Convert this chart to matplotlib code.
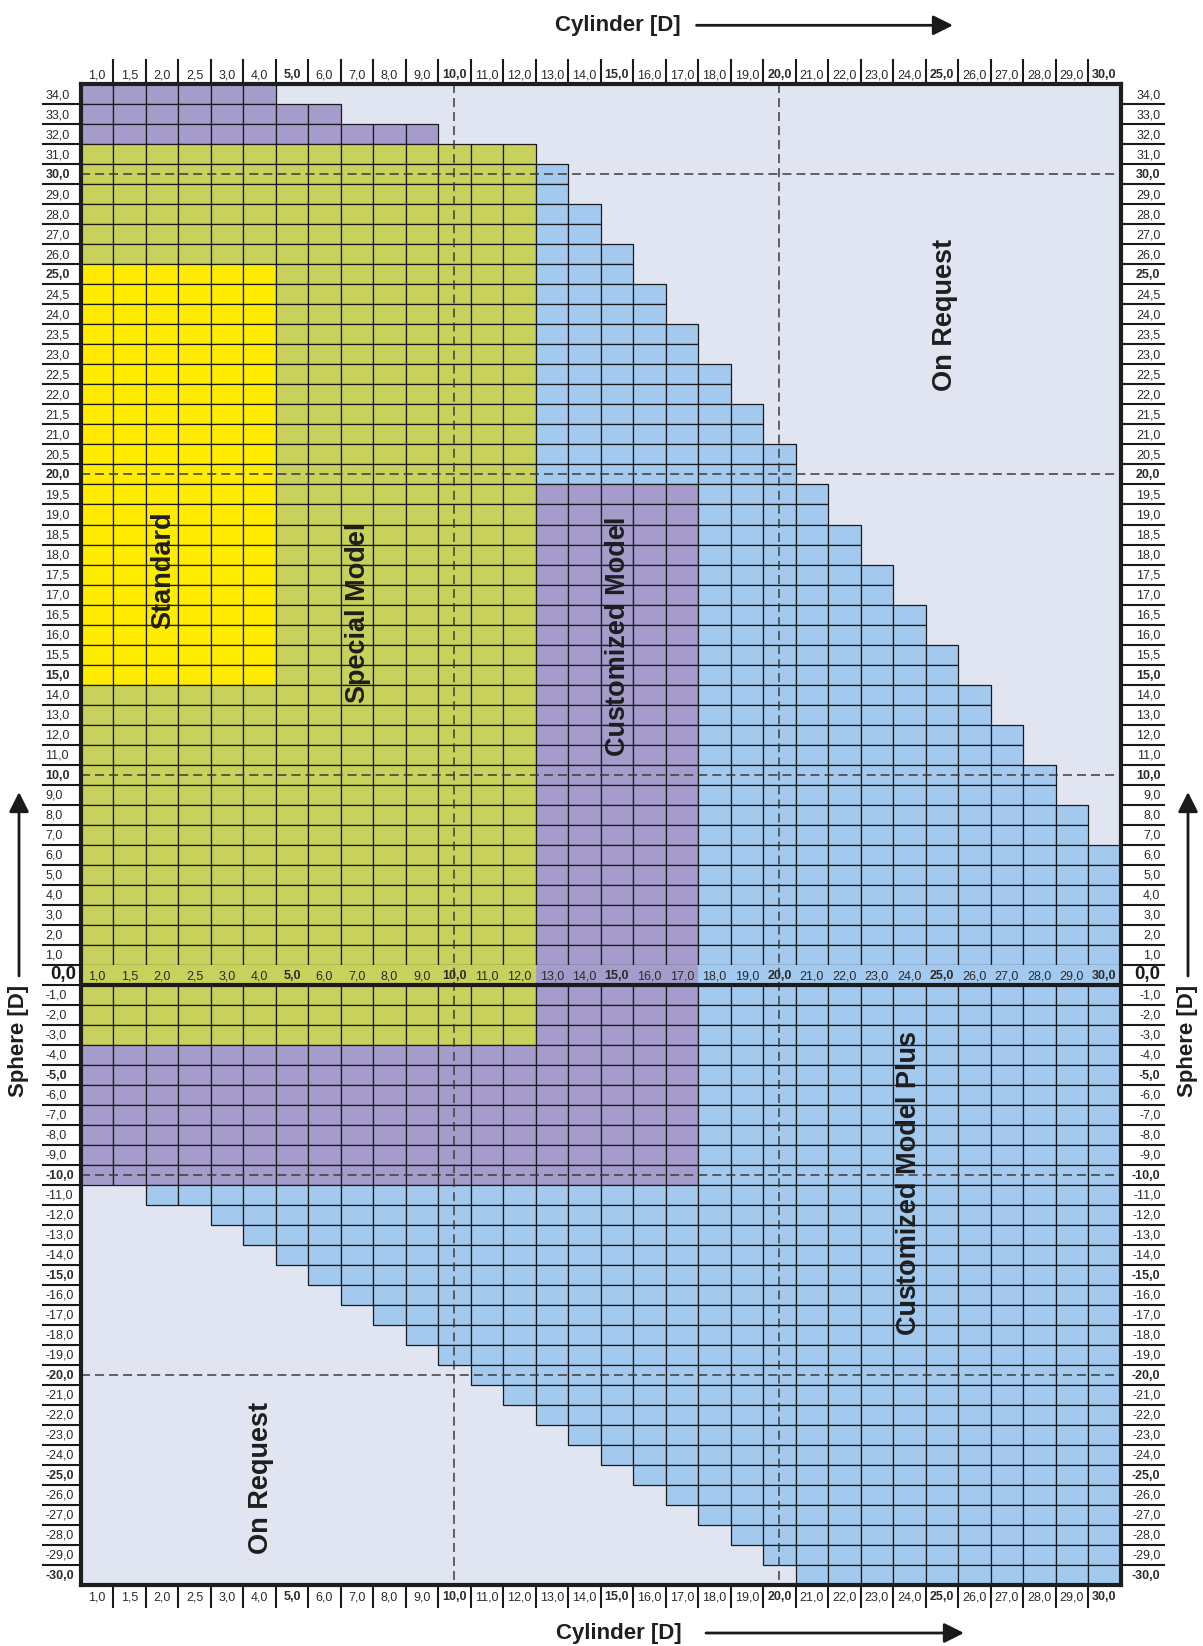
import matplotlib
matplotlib.use('Agg')
import matplotlib.pyplot as plt
from matplotlib import transforms

plt.rcParams['font.family'] = ['Liberation Sans', 'DejaVu Sans']
plt.rcParams['lines.scale_dashes'] = False

# ---------------- data ----------------
cylinder_labels = ["1,0", "1,5", "2,0", "2,5", "3,0", "4,0", "5,0", "6,0", "7,0", "8,0",
                   "9,0", "10,0", "11,0", "12,0", "13,0", "14,0", "15,0", "16,0", "17,0",
                   "18,0", "19,0", "20,0", "21,0", "22,0", "23,0", "24,0", "25,0", "26,0",
                   "27,0", "28,0", "29,0", "30,0"]
cylinder_bold = ["5,0", "10,0", "15,0", "20,0", "25,0", "30,0"]

sphere_labels = ["34,0", "33,0", "32,0", "31,0", "30,0", "29,0", "28,0", "27,0", "26,0",
                 "25,0", "24,5", "24,0", "23,5", "23,0", "22,5", "22,0", "21,5", "21,0",
                 "20,5", "20,0", "19,5", "19,0", "18,5", "18,0", "17,5", "17,0", "16,5",
                 "16,0", "15,5", "15,0", "14,0", "13,0", "12,0", "11,0", "10,0", "9,0",
                 "8,0", "7,0", "6,0", "5,0", "4,0", "3,0", "2,0", "1,0", "0,0",
                 "-1,0", "-2,0", "-3,0", "-4,0", "-5,0", "-6,0", "-7,0", "-8,0", "-9,0",
                 "-10,0", "-11,0", "-12,0", "-13,0", "-14,0", "-15,0", "-16,0", "-17,0",
                 "-18,0", "-19,0", "-20,0", "-21,0", "-22,0", "-23,0", "-24,0", "-25,0",
                 "-26,0", "-27,0", "-28,0", "-29,0", "-30,0"]
sphere_bold = ["30,0", "25,0", "20,0", "15,0", "10,0", "-5,0", "-10,0", "-15,0",
               "-20,0", "-25,0", "-30,0"]

# zone of each cell, row by row (run-length: zone letter + number of cells)
zone_rows = [
    "P6 .26", "P8 .24", "P11 .21", "G14 .18",
    "G14 B1 .17", "G14 B1 .17", "G14 B2 .16", "G14 B2 .16", "G14 B3 .15",
    "Y6 G8 B3 .15", "Y6 G8 B4 .14", "Y6 G8 B4 .14", "Y6 G8 B5 .13", "Y6 G8 B5 .13",
    "Y6 G8 B6 .12", "Y6 G8 B6 .12", "Y6 G8 B7 .11", "Y6 G8 B7 .11",
    "Y6 G8 B8 .10", "Y6 G8 B8 .10",
    "Y6 G8 P5 B4 .9", "Y6 G8 P5 B4 .9", "Y6 G8 P5 B5 .8", "Y6 G8 P5 B5 .8",
    "Y6 G8 P5 B6 .7", "Y6 G8 P5 B6 .7", "Y6 G8 P5 B7 .6", "Y6 G8 P5 B7 .6",
    "Y6 G8 P5 B8 .5", "Y6 G8 P5 B8 .5",
    "G14 P5 B9 .4", "G14 P5 B9 .4", "G14 P5 B10 .3", "G14 P5 B10 .3",
    "G14 P5 B11 .2", "G14 P5 B11 .2", "G14 P5 B12 .1", "G14 P5 B12 .1",
    "G14 P5 B13", "G14 P5 B13", "G14 P5 B13", "G14 P5 B13", "G14 P5 B13", "G14 P5 B13",
    "G14 P5 B13",
    "G14 P5 B13", "G14 P5 B13", "G14 P5 B13",
    "P19 B13", "P19 B13", "P19 B13", "P19 B13", "P19 B13", "P19 B13", "P19 B13",
    ".2 B30", ".4 B28", ".5 B27", ".6 B26", ".7 B25", ".8 B24", ".9 B23", ".10 B22",
    ".11 B21", ".12 B20", ".13 B19", ".14 B18", ".15 B17", ".16 B16", ".17 B15",
    ".18 B14", ".19 B13", ".20 B12", ".21 B11", ".22 B10",
]
zone_colors = {"P": "#A59CCB", "G": "#C8D15B", "Y": "#FFEC00", "B": "#A3CAEE"}
background = "#E1E5F1"

zone_names = ["Standard", "Special Model", "Customized Model", "On Request",
              "Customized Model Plus", "On Request"]
zone_name_pos = [(163, 570), (358, 613), (618, 636), (945, 315), (909, 1183), (261, 1478)]

dashed_cyl = ["10,0", "20,0"]
dashed_sph = ["30,0", "20,0", "10,0", "-10,0", "-20,0"]

# ---------------- layout ----------------
W, H = 1203, 1646
L, R, T, B = 80.8, 1120.5, 84.3, 1585.0
ncol = len(cylinder_labels)
nrow = len(sphere_labels)
assert len(zone_rows) == nrow
zero_row = sphere_labels.index("0,0")

fig = plt.figure(figsize=(W / 100, H / 100), dpi=100)
ax = fig.add_axes([L / W, 1 - B / H, (R - L) / W, (B - T) / H])
ax.set_xlim(0, ncol)
ax.set_ylim(nrow, 0)
ax.set_facecolor(background)
ax.set_xticks([])
ax.set_yticks([])
for sp in ax.spines.values():
    sp.set_linewidth(3.0)
    sp.set_color("#1e1e1e")
    sp.set_zorder(6)

px = transforms.Affine2D().scale(1, -1).translate(0, H)
bx = transforms.blended_transform_factory(ax.transData, px)   # x data, y pixel
by = transforms.blended_transform_factory(px, ax.transData)   # x pixel, y data

edge = "#1a1a1a"
txtc = "#2a2a2a"
fs = 9.0

# cells
for r, spec in enumerate(zone_rows):
    c = 0
    runs = []
    for tok in spec.split():
        z, n = tok[0], int(tok[1:])
        runs.append((z, c, n))
        c += n
    assert c == ncol, (r, spec)
    for z, c0, n in runs:
        if z == ".":
            continue
        if r == zero_row:
            ax.bar(c0 + n / 2, 1, width=n, bottom=r, color=zone_colors[z],
                   linewidth=0, zorder=1)
        else:
            xs = [c0 + i + 0.5 for i in range(n)]
            ax.bar(xs, 1, width=1, bottom=r, color=zone_colors[z],
                   edgecolor=edge, linewidth=0.9, zorder=1)

# thick line below the zero row
ax.plot([0, ncol], [zero_row + 1, zero_row + 1], color="#1a1a1a", lw=3.0, zorder=5,
        solid_capstyle="butt")

# dashed reference lines
for lab in dashed_cyl:
    x = cylinder_labels.index(lab) + 0.5
    ax.plot([x, x], [0, nrow], color="#3c3c3c", lw=1.1, dashes=(6.5, 3.6), zorder=4)
for lab in dashed_sph:
    y = sphere_labels.index(lab) + 0.5
    ax.plot([0, ncol], [y, y], color="#3c3c3c", lw=1.1, dashes=(6.5, 3.6), zorder=4)

# column labels (top, middle, bottom)
for i, lab in enumerate(cylinder_labels):
    w = "bold" if lab in cylinder_bold else "normal"
    ax.text(i + 0.5, 75.5, lab, transform=bx, ha="center", va="center",
            fontsize=fs, fontweight=w, color=txtc, clip_on=False)
    ax.text(i + 0.5, 1597, lab, transform=bx, ha="center", va="center",
            fontsize=fs, fontweight=w, color=txtc, clip_on=False)
    ax.text(i + 0.5, zero_row + 0.58, lab, ha="center", va="center",
            fontsize=fs, fontweight=w, color=txtc, zorder=5)
for k in range(1, ncol):
    ax.plot([k, k], [60, T], transform=bx, color="#1a1a1a", lw=1.5, clip_on=False)
    ax.plot([k, k], [B, 1607], transform=bx, color="#1a1a1a", lw=1.5, clip_on=False)

# row labels (left, right)
for j, lab in enumerate(sphere_labels):
    if lab == "0,0":
        ax.text(50, j + 0.5, lab, transform=by, ha="left", va="center",
                fontsize=13.5, fontweight="bold", color="#1a1a1a", clip_on=False)
        ax.text(1160.5, j + 0.5, lab, transform=by, ha="right", va="center",
                fontsize=13.5, fontweight="bold", color="#1a1a1a", clip_on=False)
        continue
    w = "bold" if lab in sphere_bold else "normal"
    ax.text(45.5, j + 0.55, lab, transform=by, ha="left", va="center",
            fontsize=fs, fontweight=w, color=txtc, clip_on=False)
    ax.text(1160.5, j + 0.55, lab, transform=by, ha="right", va="center",
            fontsize=fs, fontweight=w, color=txtc, clip_on=False)
for k in range(1, nrow):
    ax.plot([43.3, L], [k, k], transform=by, color="#1a1a1a", lw=1.5, clip_on=False)
    ax.plot([R, 1163.5], [k, k], transform=by, color="#1a1a1a", lw=1.5, clip_on=False)

# zone names
for name, (x, y) in zip(zone_names, zone_name_pos):
    fig.text(x / W, 1 - y / H, name, rotation=90, ha="center", va="center",
             fontsize=19.5, fontweight="bold", color="#1e1e1e", zorder=10)

# axis titles with arrows
def arrow(x0, y0, x1, y1):
    fig.add_artist(matplotlib.patches.FancyArrowPatch(
        (x0, H - y0), (x1, H - y1), transform=None,
        arrowstyle="-|>,head_length=0.4,head_width=0.2", mutation_scale=30,
        lw=2.0, color="#1a1a1a", shrinkA=0, shrinkB=0))

fig.text(617.5 / W, 1 - 25.5 / H, "Cylinder [D]", ha="center", va="center",
         fontsize=16, fontweight="bold", color="#1e1e1e")
arrow(696.5, 25.3, 953, 25.3)
fig.text(619 / W, 1 - 1633 / H, "Cylinder [D]", ha="center", va="center",
         fontsize=16, fontweight="bold", color="#1e1e1e")
arrow(706, 1633, 964, 1633)

fig.text(19 / W, 1 - 1041 / H, "Sphere [D]", rotation=90, ha="center", va="center",
         fontsize=16, fontweight="bold", color="#1e1e1e")
arrow(19, 976, 19, 792)
fig.text(1188 / W, 1 - 1041 / H, "Sphere [D]", rotation=90, ha="center", va="center",
         fontsize=16, fontweight="bold", color="#1e1e1e")
arrow(1188, 976, 1188, 792)

fig.savefig("out.png", dpi=100, facecolor="white")
